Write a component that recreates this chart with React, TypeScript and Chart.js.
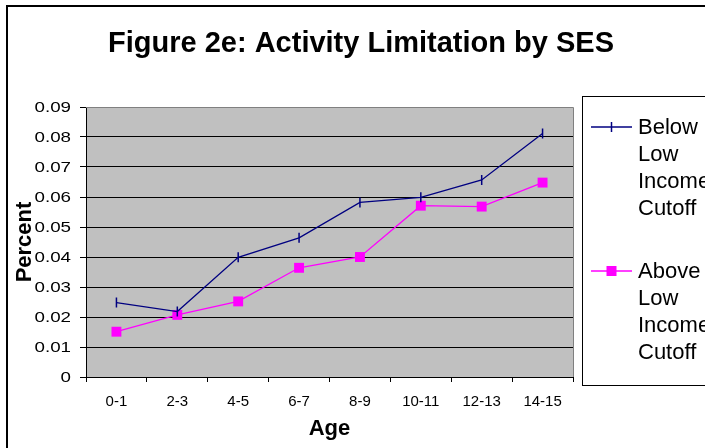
import React, { useEffect, useRef } from 'react';
import { Chart, registerables } from 'chart.js';

Chart.register(...registerables);

const categories = ['0-1', '2-3', '4-5', '6-7', '8-9', '10-11', '12-13', '14-15'];
const belowValues = [0.0248, 0.0218, 0.0399, 0.0464, 0.0582, 0.0599, 0.0657, 0.0812];
const aboveValues = [0.0151, 0.0207, 0.0252, 0.0364, 0.04, 0.0571, 0.0568, 0.0648];
const yTickLabels = ['0', '0.01', '0.02', '0.03', '0.04', '0.05', '0.06', '0.07', '0.08', '0.09'];
const belowLegendLines = ['Below', 'Low', 'Income', 'Cutoff'];
const aboveLegendLines = ['Above', 'Low', 'Income', 'Cutoff'];
const legendLines = [belowLegendLines, aboveLegendLines];
const titleText = 'Figure 2e: Activity Limitation by SES';
const xTitle = 'Age';
const yTitle = 'Percent';

const FONT = "'Liberation Sans', Arial, Helvetica, sans-serif";

const decor = {
  id: 'decor',
  beforeDraw(chart: any) {
    const { ctx, chartArea: a, width, height } = chart;
    ctx.save();
    ctx.fillStyle = '#ffffff';
    ctx.fillRect(0, 0, width, height);
    ctx.fillStyle = '#c0c0c0';
    ctx.fillRect(a.left, a.top, a.right - a.left, a.bottom - a.top);
    ctx.restore();
  },
  beforeDatasetsDraw(chart: any) {
    const { ctx, chartArea: a } = chart;
    ctx.save();
    ctx.strokeStyle = '#808080';
    ctx.lineWidth = 1;
    ctx.beginPath();
    ctx.moveTo(a.left, Math.round(a.top) + 0.5);
    ctx.lineTo(Math.round(a.right) + 0.5, Math.round(a.top) + 0.5);
    ctx.lineTo(Math.round(a.right) + 0.5, a.bottom);
    ctx.stroke();
    ctx.restore();
  },
  afterDraw(chart: any) {
    const { ctx, chartArea: a } = chart;
    ctx.save();
    // outer frame
    ctx.strokeStyle = '#000';
    ctx.lineWidth = 2;
    ctx.strokeRect(7, 6, 1000, 1000);

    // title
    ctx.fillStyle = '#000';
    ctx.font = `bold 29px ${FONT}`;
    ctx.textAlign = 'center';
    ctx.textBaseline = 'alphabetic';
    ctx.fillText(titleText, 361, 52);

    // y tick labels (slightly wide, as in the reference)
    const ys = chart.scales.y;
    ctx.font = `15px ${FONT}`;
    ctx.textAlign = 'right';
    ctx.textBaseline = 'middle';
    ys.ticks.forEach((t: any, i: number) => {
      const py = ys.getPixelForValue(t.value);
      ctx.save();
      ctx.translate(a.left - 15, py + 1);
      ctx.scale(1.25, 1);
      ctx.fillText(yTickLabels[i] ?? '', 0, 0);
      ctx.restore();
    });

    // legend
    const boxL = 582.5, boxT = 96.5;
    ctx.strokeStyle = '#000';
    ctx.lineWidth = 1;
    ctx.strokeRect(boxL, boxT, 300, 289);
    const lineH = 27;
    const entryGap = 144;
    chart.data.datasets.forEach((ds: any, di: number) => {
      const cy = boxT + 30.5 + di * entryGap;
      ctx.strokeStyle = ds.borderColor;
      ctx.lineWidth = ds.borderWidth;
      ctx.beginPath();
      ctx.moveTo(591, cy);
      ctx.lineTo(632, cy);
      ctx.stroke();
      const mx = 611.5;
      if (ds.pointStyle === 'rect') {
        ctx.fillStyle = ds.pointBackgroundColor;
        ctx.fillRect(mx - 5, cy - 5, 10, 10);
      } else {
        ctx.lineWidth = ds.pointBorderWidth;
        ctx.beginPath();
        ctx.moveTo(mx, cy - 5);
        ctx.lineTo(mx, cy + 5);
        ctx.stroke();
      }
      ctx.fillStyle = '#000';
      ctx.font = `22px ${FONT}`;
      ctx.textAlign = 'left';
      ctx.textBaseline = 'middle';
      legendLines[di].forEach((s, li) => {
        ctx.fillText(s, 638, cy + li * lineH + 1);
      });
    });
    ctx.restore();
  },
};

export default function App() {
  const ref = useRef<HTMLCanvasElement | null>(null);
  useEffect(() => {
    if (!ref.current) return;
    const chart = new Chart(ref.current, {
      type: 'line',
      data: {
        labels: categories,
        datasets: [
          {
            label: belowLegendLines.join(' '),
            data: belowValues,
            borderColor: '#000080',
            backgroundColor: '#000080',
            borderWidth: 1.3,
            pointStyle: 'line',
            rotation: 90,
            pointRadius: 5,
            pointBorderWidth: 1.5,
            pointBorderColor: '#000080',
            pointBackgroundColor: '#000080',
            tension: 0,
          },
          {
            label: aboveLegendLines.join(' '),
            data: aboveValues,
            borderColor: '#ff00ff',
            backgroundColor: '#ff00ff',
            borderWidth: 1.3,
            pointStyle: 'rect',
            pointRadius: 7,
            pointBorderWidth: 0,
            pointBorderColor: '#ff00ff',
            pointBackgroundColor: '#ff00ff',
            tension: 0,
          },
        ],
      },
      options: {
        responsive: false,
        animation: false,
        devicePixelRatio: 1,
        layout: { padding: { top: 107, right: 132, left: 6, bottom: 0 } },
        plugins: {
          legend: { display: false },
          title: { display: false },
          tooltip: { enabled: false },
        },
        scales: {
          x: {
            type: 'category',
            offset: true,
            grid: {
              offset: true,
              drawOnChartArea: false,
              drawTicks: true,
              tickLength: 5,
              color: '#000',
              lineWidth: 1,
            },
            border: { display: true, color: '#000', width: 1 },
            ticks: {
              autoSkip: false,
              maxRotation: 0,
              minRotation: 0,
              padding: 11,
              color: '#000',
              font: { family: FONT, size: 15 },
            },
            title: {
              display: true,
              text: xTitle,
              color: '#000',
              font: { family: FONT, size: 22, weight: 'bold' },
              padding: 6,
            },
            afterFit: (s: any) => {
              s.height = 71;
            },
          },
          y: {
            min: 0,
            max: 0.09,
            ticks: { stepSize: 0.01, display: false },
            grid: { color: '#000', lineWidth: 1, tickLength: 6, drawTicks: true },
            border: { display: true, color: '#000', width: 1 },
            title: {
              display: true,
              text: yTitle,
              color: '#000',
              font: { family: FONT, size: 22, weight: 'bold' },
              padding: 6,
            },
            afterFit: (s: any) => {
              s.width = 80;
            },
          },
        },
      } as any,
      plugins: [decor],
    });
    return () => chart.destroy();
  }, []);

  return (
    <div style={{ position: 'absolute', left: 0, top: 0, width: 705, height: 448 }}>
      <canvas ref={ref} width={705} height={448} style={{ display: 'block', width: 705, height: 448 }} />
    </div>
  );
}
